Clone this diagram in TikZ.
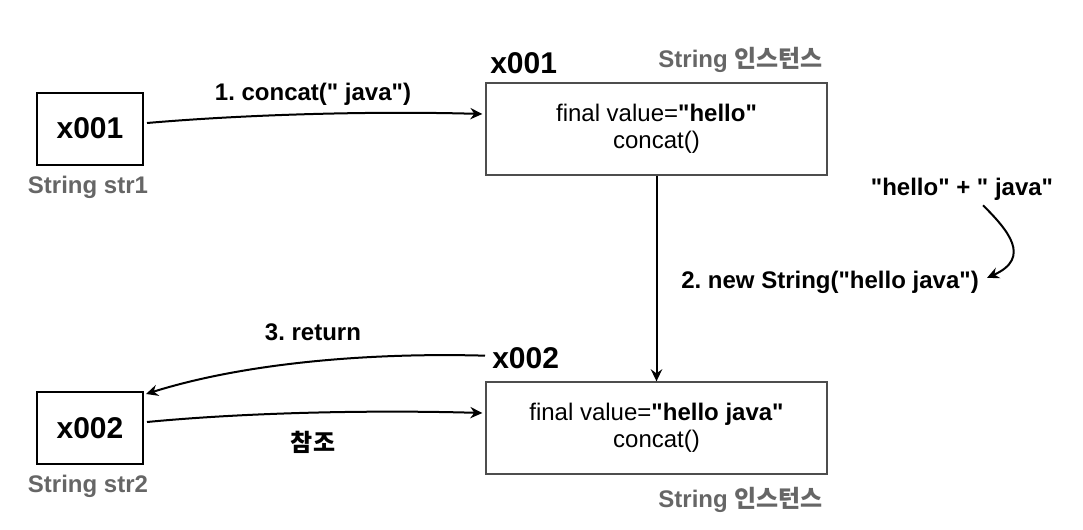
\documentclass[tikz,border=0pt]{standalone}
\usepackage{fontspec}
\setmainfont{Liberation Sans}[Ligatures=TeXOff]
\newfontfamily\krfont{Noto Sans CJK KR}
\usetikzlibrary{arrows.meta}
\definecolor{lblgray}{HTML}{666666}
\definecolor{boxgray}{HTML}{4D4D4D}
\frenchspacing
\begin{document}
\begin{tikzpicture}[x=0.75pt,y=-0.75pt,
  refbox/.style={draw=black,line width=1.5pt,minimum width=106*0.75pt,minimum height=72*0.75pt,inner sep=0pt,font=\fontsize{22.5}{27}\selectfont\bfseries},
  objbox/.style={draw=boxgray,line width=1pt,minimum width=341*0.75pt,minimum height=92*0.75pt,inner sep=0pt,align=center,font=\fontsize{18}{20}\selectfont},
  caption/.style={font=\fontsize{18}{21}\selectfont\bfseries,text=lblgray,inner sep=0pt},
  lbl/.style={font=\fontsize{18}{21}\selectfont\bfseries,inner sep=0pt},
  addr/.style={font=\fontsize{22.5}{27}\selectfont\bfseries,inner sep=0pt},
  conn/.style={line width=1.5pt,-{Stealth[length=9pt,width=8.5pt,inset=3pt]}}
]
\useasboundingbox (0,0) rectangle (1083,529);

% left reference boxes
\node[refbox] (b1) at (90,128.5) {x001};
\node[refbox] (b2) at (90,428) {x002};
\node[caption,anchor=base] (c1) at (88,193) {String str1};
\node[caption,anchor=base] (c2) at (88,492) {String str2};

% object boxes
\node[objbox] (v1) at (656.5,129) {final value=\textbf{"hello"}\\concat()};
\node[objbox] (v2) at (656.5,428) {final value=\textbf{"hello java"}\\concat()};

\node[addr,anchor=base west] (a1) at (490,73) {x001};
\node[addr,anchor=base west] (a2) at (492,368) {x002};
\node[caption,anchor=base east] (s1) at (823,67) {String {\krfont\bfseries 인스턴스}};
\node[caption,anchor=base east] (s2) at (823,507) {String {\krfont\bfseries 인스턴스}};

% labels
\node[lbl,anchor=base] (l1) at (313,100) {1. concat(" java")};
\node[lbl,anchor=base] (hj) at (962,195) {"hello" + " java"};
\node[lbl,anchor=base] (ns) at (830,288) {2. new String("hello java")};
\node[lbl,anchor=base] (l3) at (313,340) {3. return};
\node[lbl] (l4) at (313,442) {\krfont\bfseries 참조};

% connectors
\draw[conn] ([shift={(3,-5.5)}]b1.east) .. controls +(104,-9) and +(-103,-3) .. ([shift={(-3,-15)}]v1.west);
\draw[conn] (v1.south) -- (v2.north);
\draw[conn] ([shift={(21,5)}]hj.south) .. controls +(25,25) and +(45,-20) .. ([shift={(8,-4)}]ns.east);
\draw[conn] ([shift={(-7,-2)}]a2.west) .. controls +(-105,-3) and +(105,-33) .. ([shift={(2,3)}]b2.north east);
\draw[conn] ([shift={(3,-6)}]b2.east) .. controls +(104,-10) and +(-103,-3) .. ([shift={(-3,-15)}]v2.west);
\end{tikzpicture}
\end{document}
